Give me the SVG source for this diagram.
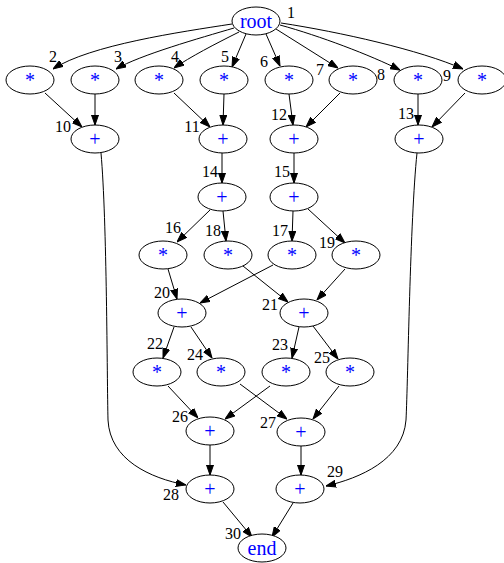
<svg xmlns="http://www.w3.org/2000/svg" width="504" height="563" viewBox="0 0 504 563">
<style>
.n ellipse{fill:#fff;stroke:#000;stroke-width:1}
.n text.t{font-family:"Liberation Serif",serif;font-size:20px;fill:#0000ff;text-anchor:middle}
.n text.l{font-family:"Liberation Serif",serif;font-size:16px;fill:#000;text-anchor:middle}
.e path{fill:none;stroke:#000;stroke-width:1;marker-end:url(#a)}
</style>
<defs>
<marker id="a" markerUnits="userSpaceOnUse" markerWidth="10" markerHeight="8" refX="10" refY="3.5" orient="auto" viewBox="0 0 10 7">
<path d="M0,0L10,3.5L0,7z" fill="#000" stroke="#000" stroke-width="1"/>
</marker>
</defs>
<rect width="504" height="563" fill="#fff"/>
<g id="edges" class="e">
<path d="M232,24C180,32 90,45 53,69"/>
<path d="M234,28C200,38 140,55 116,69"/>
<path d="M239,32C215,44 190,57 174,68"/>
<path d="M246,34L232,67"/>
<path d="M266,34L280,66"/>
<path d="M276,29L338,68"/>
<path d="M280,25C320,36 370,55 400,70"/>
<path d="M281,23C340,32 420,50 463,69"/>
<path d="M45,93L82,127"/>
<path d="M95,94L95,125"/>
<path d="M174,93L210,127"/>
<path d="M224,94L223,125"/>
<path d="M289,94L293,125"/>
<path d="M340,93L306,127"/>
<path d="M418,94L418,125"/>
<path d="M465,93L432,127"/>
<path d="M101,153C107,220 107,380 108,420C110,460 150,478 186,485"/>
<path d="M417,153C410,220 408,380 406,420C403,460 360,478 326,486"/>
<path d="M222,153L222,183"/>
<path d="M294,153L294,183"/>
<path d="M210,210L177,242"/>
<path d="M223,211L226,241"/>
<path d="M293,211L292,241"/>
<path d="M308,209L345,243"/>
<path d="M168,269L177,299"/>
<path d="M243,266L288,302"/>
<path d="M273,265L200,303"/>
<path d="M345,269L317,300"/>
<path d="M174,327L163,358"/>
<path d="M191,327L212,358"/>
<path d="M299,327L292,358"/>
<path d="M313,326L338,359"/>
<path d="M168,386L198,418"/>
<path d="M240,384L287,419"/>
<path d="M270,386L225,419"/>
<path d="M339,386L313,419"/>
<path d="M210,445L210,475"/>
<path d="M301,446L301,475"/>
<path d="M223,502L252,537"/>
<path d="M293,503L272,537"/>
</g>
<g id="n1" class="n"><ellipse cx="256" cy="21" rx="24" ry="14"/><text class="t" x="256" y="28">root</text><text class="l" x="291" y="18">1</text></g>
<g id="n2" class="n"><ellipse cx="30" cy="80" rx="24" ry="14"/><text class="t" x="30" y="87">*</text><text class="l" x="53" y="62">2</text></g>
<g id="n3" class="n"><ellipse cx="95" cy="80" rx="24" ry="14"/><text class="t" x="95" y="87">*</text><text class="l" x="118" y="62">3</text></g>
<g id="n4" class="n"><ellipse cx="159" cy="80" rx="24" ry="14"/><text class="t" x="159" y="87">*</text><text class="l" x="175" y="62">4</text></g>
<g id="n5" class="n"><ellipse cx="224" cy="80" rx="24" ry="14"/><text class="t" x="224" y="87">*</text><text class="l" x="225" y="62">5</text></g>
<g id="n6" class="n"><ellipse cx="289" cy="80" rx="24" ry="14"/><text class="t" x="289" y="87">*</text><text class="l" x="264" y="67">6</text></g>
<g id="n7" class="n"><ellipse cx="353" cy="80" rx="24" ry="14"/><text class="t" x="353" y="87">*</text><text class="l" x="320" y="75">7</text></g>
<g id="n8" class="n"><ellipse cx="418" cy="80" rx="24" ry="14"/><text class="t" x="418" y="87">*</text><text class="l" x="381" y="80">8</text></g>
<g id="n9" class="n"><ellipse cx="482" cy="80" rx="24" ry="14"/><text class="t" x="482" y="87">*</text><text class="l" x="447" y="81">9</text></g>
<g id="n10" class="n"><ellipse cx="95" cy="139" rx="24" ry="14"/><text class="t" x="95" y="146">+</text><text class="l" x="63" y="132">10</text></g>
<g id="n11" class="n"><ellipse cx="223" cy="139" rx="24" ry="14"/><text class="t" x="223" y="146">+</text><text class="l" x="192" y="132">11</text></g>
<g id="n12" class="n"><ellipse cx="294" cy="139" rx="24" ry="14"/><text class="t" x="294" y="146">+</text><text class="l" x="279" y="120">12</text></g>
<g id="n13" class="n"><ellipse cx="419" cy="139" rx="24" ry="14"/><text class="t" x="419" y="146">+</text><text class="l" x="406" y="119">13</text></g>
<g id="n14" class="n"><ellipse cx="222" cy="197" rx="24" ry="14"/><text class="t" x="222" y="204">+</text><text class="l" x="210" y="177">14</text></g>
<g id="n15" class="n"><ellipse cx="294" cy="197" rx="24" ry="14"/><text class="t" x="294" y="204">+</text><text class="l" x="282" y="177">15</text></g>
<g id="n16" class="n"><ellipse cx="163" cy="255" rx="24" ry="14"/><text class="t" x="163" y="262">*</text><text class="l" x="173" y="233">16</text></g>
<g id="n18" class="n"><ellipse cx="228" cy="255" rx="24" ry="14"/><text class="t" x="228" y="262">*</text><text class="l" x="213" y="236">18</text></g>
<g id="n17" class="n"><ellipse cx="292" cy="255" rx="24" ry="14"/><text class="t" x="292" y="262">*</text><text class="l" x="280" y="236">17</text></g>
<g id="n19" class="n"><ellipse cx="356" cy="255" rx="24" ry="14"/><text class="t" x="356" y="262">*</text><text class="l" x="327" y="248">19</text></g>
<g id="n20" class="n"><ellipse cx="182" cy="313" rx="24" ry="14"/><text class="t" x="182" y="320">+</text><text class="l" x="162" y="298">20</text></g>
<g id="n21" class="n"><ellipse cx="304" cy="313" rx="24" ry="14"/><text class="t" x="304" y="320">+</text><text class="l" x="270" y="310">21</text></g>
<g id="n22" class="n"><ellipse cx="157" cy="372" rx="24" ry="14"/><text class="t" x="157" y="379">*</text><text class="l" x="155" y="349">22</text></g>
<g id="n24" class="n"><ellipse cx="221" cy="372" rx="24" ry="14"/><text class="t" x="221" y="379">*</text><text class="l" x="195" y="360">24</text></g>
<g id="n23" class="n"><ellipse cx="286" cy="372" rx="24" ry="14"/><text class="t" x="286" y="379">*</text><text class="l" x="280" y="350">23</text></g>
<g id="n25" class="n"><ellipse cx="350" cy="372" rx="24" ry="14"/><text class="t" x="350" y="379">*</text><text class="l" x="322" y="363">25</text></g>
<g id="n26" class="n"><ellipse cx="210" cy="431" rx="24" ry="14"/><text class="t" x="210" y="438">+</text><text class="l" x="180" y="422">26</text></g>
<g id="n27" class="n"><ellipse cx="301" cy="432" rx="24" ry="14"/><text class="t" x="301" y="439">+</text><text class="l" x="268" y="428">27</text></g>
<g id="n28" class="n"><ellipse cx="210" cy="489" rx="24" ry="14"/><text class="t" x="210" y="496">+</text><text class="l" x="171" y="500">28</text></g>
<g id="n29" class="n"><ellipse cx="300" cy="489" rx="24" ry="14"/><text class="t" x="300" y="496">+</text><text class="l" x="335" y="477">29</text></g>
<g id="n30" class="n"><ellipse cx="262" cy="548" rx="24" ry="14"/><text class="t" x="262" y="555">end</text><text class="l" x="233" y="539">30</text></g>
</svg>
